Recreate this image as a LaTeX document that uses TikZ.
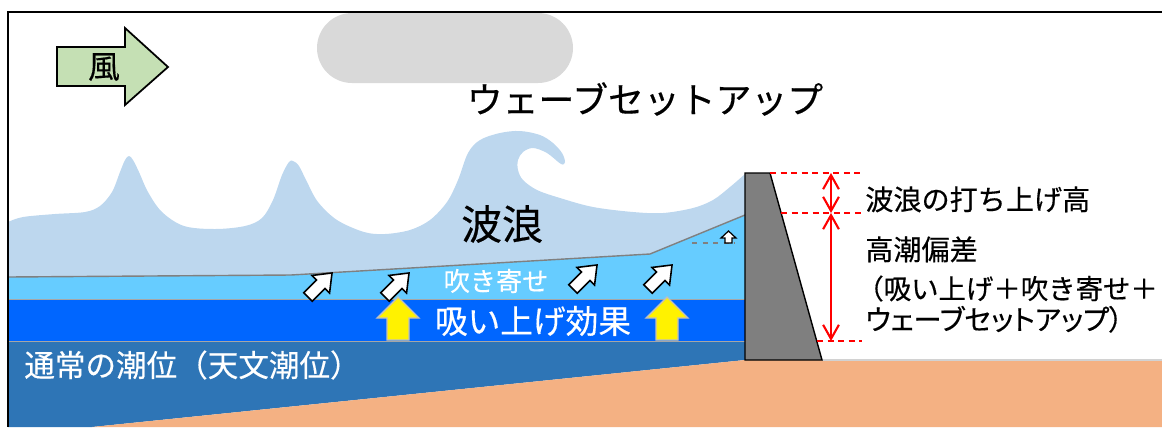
\documentclass[tikz,border=0pt]{standalone}
\usepackage{fontspec}
\setmainfont{Noto Sans CJK JP}[FakeBold=0.4]
\usetikzlibrary{arrows.meta}

\definecolor{wavefoam}{HTML}{BDD7EE}
\definecolor{windsetup}{HTML}{66CCFF}
\definecolor{suction}{HTML}{0066FF}
\definecolor{tide}{HTML}{2E75B6}
\definecolor{seabed}{HTML}{F4B183}
\definecolor{wallgray}{HTML}{7F7F7F}
\definecolor{cloudgray}{HTML}{D9D9D9}
\definecolor{windgreen}{HTML}{C5E0B4}

\tikzset{
  txt/.style={inner sep=0pt},
  layer/.style={draw=gray!70, line width=0.5pt},
  dimline/.style={red, line width=1.2pt, {Straight Barb[length=8pt,width=9pt]}-{Straight Barb[length=8pt,width=9pt]}},
  guide/.style={red, dashed, dash pattern=on 3.5pt off 2.5pt, line width=0.8pt},
  pushbox/.style={fill=white, draw=black, line width=0.9pt},
  liftarrow/.style={fill=yellow, draw=gray!50, line width=0.8pt}
}

\begin{document}
\begin{tikzpicture}[x=0.02cm, y=-0.02cm]
    \useasboundingbox (0,0) rectangle (1162,427);

    % Cloud
    \fill[cloudgray, rounded corners=0.7cm] (317,13) rectangle (573,83);

    % Waves above the raised sea level
    \fill[wavefoam] (8,277) -- plot[smooth, tension=0.55] coordinates {
        (8,222) (23,217) (55,214) (85,212) (100,206) (112,192) (120,172) (125,160)
        (129,156) (133,160) (139,172) (148,192) (162,212) (184,226) (215,229)
        (245,226) (262,218) (273,200) (282,175) (289,162) (293,161) (299,166)
        (307,182) (318,202) (337,220) (364,232) (385,234) (410,230) (430,220)
        (447,202) (458,180) (468,153) (480,140) (500,133) (520,131) (540,135)
        (553,143) (562,153) (565,162) (561,164) (547,153) (533,148) (523,152)
        (518,160) (518,170) (523,180) (537,190) (560,198) (593,207) (633,212)
        (663,213) (693,208) (713,200) (730,187) (745,174)}
        -- (745,215) -- (650,254) -- (291,275) -- cycle;

    % Water layers: wind setup, suction, normal tide
    \fill[windsetup] (8,277) -- (291,275) -- (650,254) -- (745,215) -- (745,299) -- (8,299) -- cycle;
    \fill[suction] (8,299) rectangle (745,341);
    \fill[tide] (8,341) -- (745,341) -- (745,360) -- (92,427) -- (8,427) -- cycle;
    \draw[gray, line width=0.8pt] (8,277) -- (291,275) -- (650,254) -- (745,215);
    \draw[layer] (8,299) -- (745,299);
    \draw[layer] (8,341) -- (745,341);
    \draw[gray, dashed, line width=0.8pt] (692,243) -- (735,243); % level before wave setup

    % Sea bed and land
    \fill[seabed] (92,427) -- (745,360) -- (1162,360) -- (1162,427) -- cycle;
    \draw[gray!35, line width=0.8pt] (822,360) -- (1162,360);

    % Sea wall
    \filldraw[fill=wallgray, draw=black, line width=0.8pt] (745,173) -- (770,173) -- (822,360) -- (745,360) -- cycle;

    % Wind arrow
    \draw[fill=windgreen, line width=1pt] (57,47) -- (125,47) -- (125,28) -- (168,67) -- (125,105) -- (125,86) -- (57,86) -- cycle;
    \node[txt, font=\fontsize{18.1}{20}\selectfont] (wind) at (104,67) {風};

    % Wind setup arrows
    \foreach \x/\y in {320/285, 397/285, 585/277, 660/277}
        \draw[pushbox, shift={(\x,\y)}, rotate=45] (-17,-6) -- (1,-6) -- (1,-12.5) -- (17,0) -- (1,12.5) -- (1,6) -- (-17,6) -- cycle;

    % Suction arrows
    \foreach \x in {398,667}
        \draw[liftarrow] (\x-11,340) -- (\x-11,318) -- (\x-21,318) -- (\x,297) -- (\x+21,318) -- (\x+11,318) -- (\x+11,340) -- cycle;

    % Small wave setup arrow at the wall
    \draw[pushbox, line width=0.7pt] (725,243) -- (725,238) -- (721,238) -- (728.5,231) -- (736,238) -- (732,238) -- (732,243) -- cycle;

    % Labels
    \node[txt, font=\fontsize{20.4}{24}\selectfont] (setup) at (645,99) {ウェーブセットアップ};
    \node[txt, font=\fontsize{23.2}{26}\selectfont] (waves) at (502,224) {波浪};
    \node[txt, white, font=\fontsize{14.9}{17}\selectfont] (windpush) at (496,281) {吹き寄せ};
    \node[txt, white, font=\fontsize{18.6}{21}\selectfont] (suck) at (533,321) {吸い上げ効果};
    \node[txt, white, font=\fontsize{17.4}{20}\selectfont, anchor=west] (tidelevel) at (24,365) {通常の潮位（天文潮位）};

    % Height markers beside the wall
    \coordinate (dimtop) at (831,173);
    \coordinate (dimmid) at (831,213);
    \coordinate (dimbot) at (831,341);
    \draw[guide] (770,173) -- (862,173);
    \draw[guide] (781,213) -- (862,213);
    \draw[guide] (817,341) -- (862,341);
    \draw[dimline] (dimtop) -- (dimmid);
    \draw[dimline] (dimmid) -- (dimbot);

    \node[txt, anchor=base west, font=\fontsize{16}{19}\selectfont] (runup) at (865,210) {波浪の打ち上げ高};
    \node[txt, anchor=base west, font=\fontsize{16}{19}\selectfont] (surge) at (865,260) {高潮偏差};
    \node[txt, anchor=base west, font=\fontsize{15.6}{19}\selectfont] (surgea) at (856,299) {（吸い上げ＋吹き寄せ＋};
    \node[txt, anchor=base west, font=\fontsize{16}{19}\selectfont\addfontfeature{RawFeature=+palt}] (surgeb) at (865,330) {ウェーブセットアップ）};

    % Frame
    \draw[line width=0.7pt] (1162,12) -- (8,12) -- (8,427);
\end{tikzpicture}
\end{document}
